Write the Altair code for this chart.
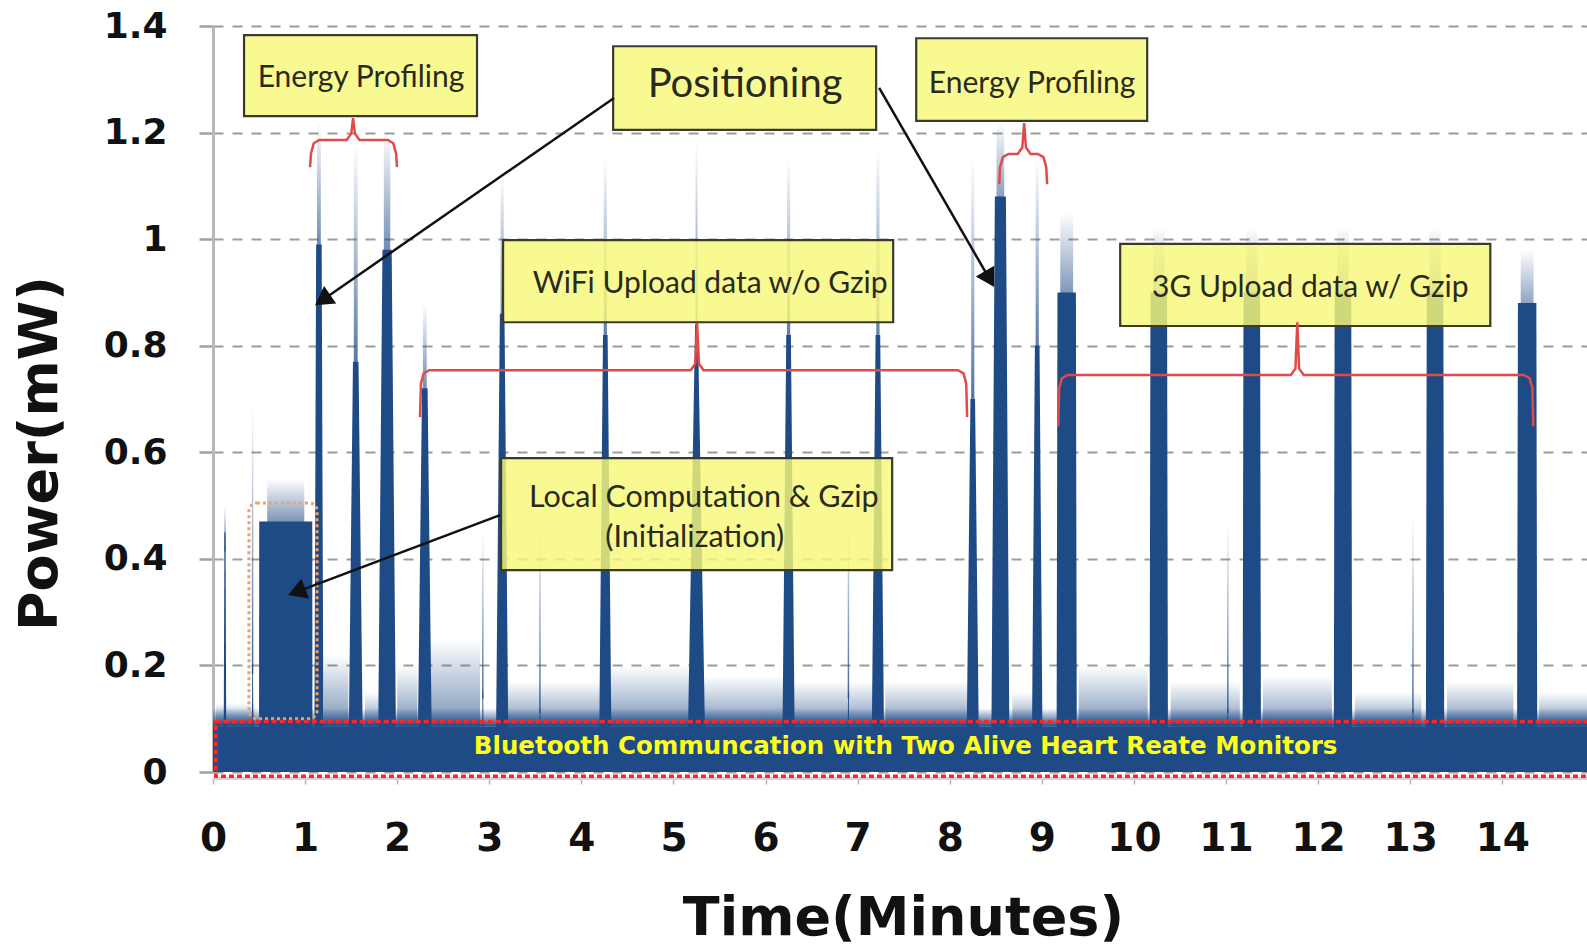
import math
import altair as alt
import pandas as pd

NAVY = "#1e4a86"
NAVY0 = "rgba(30,74,134,0)"

# ---------------- axes ----------------
X_MAX = 14.92
Y_MAX = 1.4
PLOT_W, PLOT_H = 1374, 746
x_ticks = list(range(15))
y_ticks = [0, 0.2, 0.4, 0.6, 0.8, 1.0, 1.2, 1.4]

# ---------------- Bluetooth background level ----------------
band_start = [0.0]
band_end = [X_MAX]
band_level = [0.085]

# ---------------- low-level noise above the band ----------------
noise_start = [0.03, 1.20, 1.65, 2.00, 2.36, 3.20, 4.32, 5.32, 6.30, 7.30, 8.68, 9.40, 10.40, 11.40, 12.40, 13.40, 14.40]
noise_end = [0.45, 1.47, 1.80, 2.22, 2.90, 4.20, 5.20, 6.20, 7.18, 8.20, 8.90, 10.15, 11.15, 12.15, 13.12, 14.12, 14.92]
noise_top = [0.13, 0.22, 0.15, 0.20, 0.25, 0.17, 0.20, 0.18, 0.17, 0.17, 0.15, 0.20, 0.17, 0.18, 0.15, 0.17, 0.15]

# ---------------- bursts (centre, half widths, solid top, faint peak) ----------------
spike_t = [0.13, 0.43, 0.79, 1.15, 1.55, 1.89, 2.30, 2.93, 3.14, 3.55, 4.26, 5.25, 6.25,
           6.90, 7.22, 8.25, 8.55, 8.95, 9.27, 10.27, 11.02, 11.28, 12.27, 13.03, 13.27, 14.27]
spike_wb = [0.015, 0.010, 0.290, 0.050, 0.080, 0.100, 0.080, 0.010, 0.070, 0.010, 0.070, 0.100, 0.070,
            0.010, 0.070, 0.070, 0.100, 0.060, 0.110, 0.100, 0.010, 0.100, 0.100, 0.010, 0.100, 0.110]
spike_wt = [0.006, 0.004, 0.288, 0.030, 0.030, 0.050, 0.030, 0.004, 0.025, 0.004, 0.025, 0.015, 0.025,
            0.004, 0.025, 0.025, 0.060, 0.025, 0.100, 0.090, 0.004, 0.090, 0.090, 0.004, 0.090, 0.100]
spike_h = [0.45, 0.20, 0.47, 0.99, 0.77, 0.98, 0.72, 0.15, 0.86, 0.12, 0.82, 0.84, 0.82,
           0.15, 0.82, 0.70, 1.08, 0.80, 0.90, 0.90, 0.12, 0.90, 0.90, 0.12, 0.90, 0.88]
spike_peak = [0.50, 0.69, 0.55, 1.22, 1.18, 1.20, 0.88, 0.45, 1.12, 0.48, 1.15, 1.18, 1.15,
              0.50, 1.17, 1.15, 1.22, 1.15, 1.05, 1.02, 0.47, 1.02, 1.02, 0.48, 1.02, 0.98]

# ---------------- annotation boxes ----------------
box_x0 = [0.337, 4.345, 7.636, 3.150, 9.851, 3.128]
box_x1 = [2.867, 7.201, 10.144, 7.386, 13.870, 7.375]
box_y0 = [1.231, 1.205, 1.222, 0.844, 0.837, 0.379]
box_y1 = [1.383, 1.362, 1.377, 0.998, 0.991, 0.589]

text_label = ["Energy Profiling", "Positioning", "Energy Profiling", "WiFi Upload data w/o Gzip",
              "3G Upload data w/ Gzip", "Local Computation & Gzip", "(Initialization)"]
text_t = [1.607, 5.778, 8.895, 5.398, 11.915, 5.329, 5.231]
text_v = [1.285, 1.267, 1.274, 0.899, 0.892, 0.497, 0.423]
text_size = [30, 40, 30, 30, 30, 30.5, 30.5]

bt_label = ["Bluetooth Communcation with Two Alive Heart Reate Monitors"]
bt_t = [7.521]
bt_v = [0.034]

# ---------------- braces ----------------
brace_left = [1.054, 8.537, 2.248, 9.178]
brace_right = [1.998, 9.058, 8.189, 14.337]
brace_mid = [1.521, 8.808, 5.257, 11.774]
brace_level = [1.186, 1.160, 0.754, 0.745]
brace_end = [1.135, 1.103, 0.666, 0.649]
brace_tip = [1.227, 1.218, 0.843, 0.844]

# ---------------- arrows ----------------
arrow_t0 = [4.355, 7.234, 3.117]
arrow_v0 = [1.265, 1.284, 0.482]
arrow_t1 = [1.108, 8.483, 0.815]
arrow_v1 = [0.876, 0.910, 0.332]

# ---------------- dashed frames ----------------
init_frame = dict(t0=0.39, t1=1.13, v0=0.10, v1=0.505)
bt_frame = dict(t0=0.03, t1=X_MAX + 0.2, v0=-0.008, v1=0.095)

# ======================================================================
xs = alt.Scale(domain=[0, X_MAX], nice=False, zero=False)
ys = alt.Scale(domain=[0, Y_MAX], nice=False)
PX_T = PLOT_W / X_MAX
PX_V = PLOT_H / Y_MAX
AX_FONT = "DejaVu Sans"

x_axis = alt.Axis(values=x_ticks, grid=False, domainColor="#d2d2d2", domainWidth=3,
                  tickColor="#b8b8b8", tickSize=6, tickWidth=1.5, offset=6,
                  labelFont=AX_FONT, labelFontWeight="bold", labelFontSize=39, labelColor="#111111",
                  labelPadding=35, labelFlush=False, labelOverlap=False,
                  title="Time(Minutes)", titleFont=AX_FONT, titleFontWeight="bold", titleFontSize=54,
                  titleColor="#111111", titleX=690, titleY=140, titleAlign="center", titleBaseline="middle")
y_axis = alt.Axis(values=y_ticks, format="~g", grid=True, gridDash=[10, 9], gridColor="#9c9c9c", gridWidth=2,
                  domainColor="#b8b8b8", domainWidth=3, tickColor="#a0a0a0", tickSize=14, tickWidth=2.5,
                  labelFont=AX_FONT, labelFontWeight="bold", labelFontSize=36, labelColor="#111111",
                  labelPadding=32, labelOverlap=False,
                  title="Power(mW)", titleFont=AX_FONT, titleFontWeight="bold", titleFontSize=54,
                  titleColor="#111111", titleAngle=270, titleX=-173, titleY=427,
                  titleAlign="center", titleBaseline="middle")


def fade(bottom_color=NAVY):
    return alt.LinearGradient(gradient="linear", x1=0, y1=1, x2=0, y2=0,
                              stops=[alt.GradientStop(color=bottom_color, offset=0),
                                     alt.GradientStop(color=NAVY0, offset=1)])


def RX(f):
    return alt.X(f, type="quantitative", scale=xs, axis=x_axis)


def RY(f):
    return alt.Y(f, type="quantitative", scale=ys, axis=y_axis)


# base band
band_df = pd.DataFrame({"t0": band_start, "t1": band_end, "v1": band_level})
band_df["v0"] = 0.0
base = alt.Chart(band_df).mark_rect(color=NAVY).encode(x=RX("t0"), x2="t1", y=RY("v0"), y2="v1")

fuzz_df = pd.DataFrame({"t0": band_start, "t1": band_end, "v0": band_level})
fuzz_df["v1"] = fuzz_df["v0"] + 0.035
fuzz = alt.Chart(fuzz_df).mark_rect(color=fade()).encode(x=RX("t0"), x2="t1", y=RY("v0"), y2="v1")

noise_df = pd.DataFrame({"t0": noise_start, "t1": noise_end, "v1": noise_top})
noise_df["v0"] = band_level[0]
noise = alt.Chart(noise_df).mark_rect(color=fade(), opacity=0.6).encode(
    x=RX("t0"), x2="t1", y=RY("v0"), y2="v1")

# burst bodies as trapezoids
rows = []
for i, (t, wb, wt, h) in enumerate(zip(spike_t, spike_wb, spike_wt, spike_h)):
    rows += [dict(id=i, t=t - wb, v=0.0), dict(id=i, t=t - wt, v=h),
             dict(id=i, t=t + wt, v=h), dict(id=i, t=t + wb, v=0.0)]
body_df = pd.DataFrame(rows)
bodies = alt.Chart(body_df).mark_area(color=NAVY, interpolate="linear", opacity=1).encode(
    x=RX("t"), y=RY("v"), y2=alt.datum(0), detail="id:N")

glow_df = pd.DataFrame({"t": spike_t, "wt": spike_wt, "h": spike_h, "p": spike_peak})
glow_df["t0"] = glow_df["t"] - (glow_df["wt"] * 0.7).clip(lower=0.008)
glow_df["t1"] = glow_df["t"] + (glow_df["wt"] * 0.7).clip(lower=0.008)
glow_df["v0"] = glow_df["h"] * 0.92
glows = alt.Chart(glow_df).mark_rect(color=fade(), opacity=0.85).encode(
    x=RX("t0"), x2="t1", y=RY("v0"), y2="p")

# dashed frames
init_box = alt.Chart(pd.DataFrame([init_frame])).mark_rect(
    fillOpacity=0, stroke="#f0a068", strokeWidth=3, strokeDash=[3, 3], cornerRadius=8).encode(
    x=RX("t0"), x2="t1", y=RY("v0"), y2="v1")
bt_box = alt.Chart(pd.DataFrame([bt_frame])).mark_rect(
    fillOpacity=0, stroke="#ff2626", strokeWidth=3.5, strokeDash=[5, 3]).encode(
    x=RX("t0"), x2="t1", y=RY("v0"), y2="v1")

bt_text = alt.Chart(pd.DataFrame({"t": bt_t, "v": bt_v, "s": bt_label})).mark_text(
    font=AX_FONT, fontWeight="bold", fontSize=24.5, color="#ffff1a", align="center",
    baseline="alphabetic").encode(x=RX("t"), y=RY("v"), text="s:N")

# yellow boxes
box_df = pd.DataFrame({"t0": box_x0, "t1": box_x1, "v0": box_y0, "v1": box_y1})
boxes = alt.Chart(box_df).mark_rect(fill="#f8f87a", fillOpacity=0.82, stroke="#3a3a2e",
                                     strokeWidth=2.2).encode(x=RX("t0"), x2="t1", y=RY("v0"), y2="v1")
text_df = pd.DataFrame({"t": text_t, "v": text_v, "s": text_label, "fs": text_size})
texts = alt.Chart(text_df).mark_text(font="Lato", color="#2a2a1c", align="center",
                                     baseline="alphabetic").encode(
    x=RX("t"), y=RY("v"), text="s:N", size=alt.Size("fs:Q", scale=None, legend=None))

# braces
brows = []
for i, (L, R, M, lev, end, tip) in enumerate(zip(brace_left, brace_right, brace_mid,
                                                  brace_level, brace_end, brace_tip)):
    pts = [(L, end), (L + 0.01, lev - 0.025), (L + 0.04, lev - 0.006), (L + 0.1, lev),
           (M - 0.07, lev), (M - 0.02, lev + 0.012), (M, tip), (M + 0.02, lev + 0.012), (M + 0.07, lev),
           (R - 0.1, lev), (R - 0.04, lev - 0.006), (R - 0.01, lev - 0.025), (R, end)]
    for k, (t, v) in enumerate(pts):
        brows.append(dict(id=i, k=k, t=t, v=v))
braces = alt.Chart(pd.DataFrame(brows)).mark_line(color="#e24a4a", strokeWidth=2.5).encode(
    x=RX("t"), y=RY("v"), detail="id:N", order="k:Q")

# arrows
arows = []
HEAD = 9.2  # px from tip back to symbol centre
for t0, v0, t1, v1 in zip(arrow_t0, arrow_v0, arrow_t1, arrow_v1):
    dx = (t1 - t0) * PX_T
    dy = -(v1 - v0) * PX_V
    d = math.hypot(dx, dy)
    ux, uy = dx / d, dy / d
    cx = t1 - ux * HEAD / PX_T
    cy = v1 + uy * HEAD / PX_V
    ang = math.degrees(math.atan2(dx, -dy)) % 360
    arows.append(dict(t0=t0, v0=v0, t1=cx, v1=cy, ang=ang))
arrow_df = pd.DataFrame(arows)
arrow_lines = alt.Chart(arrow_df).mark_rule(color="#111111", strokeWidth=2.5).encode(
    x=RX("t0"), y=RY("v0"), x2="t1", y2="v1")
arrow_heads = alt.Chart(arrow_df).mark_point(shape="triangle-up", filled=True, size=450,
                                              color="#111111", opacity=1).encode(
    x=RX("t1"), y=RY("v1"), angle=alt.Angle("ang:Q", scale=None))

chart = alt.layer(base, fuzz, noise, bodies, glows, init_box, bt_box, bt_text,
                  boxes, texts, braces, arrow_lines, arrow_heads).properties(
    width=PLOT_W, height=PLOT_H,
    padding={"left": 213, "top": 26, "right": 0, "bottom": 179},
    autosize=alt.AutoSizeParams(type="none"),
    background="white",
).configure_view(strokeWidth=0)

chart.save("out.html", embed_options={"renderer": "svg", "actions": False})
